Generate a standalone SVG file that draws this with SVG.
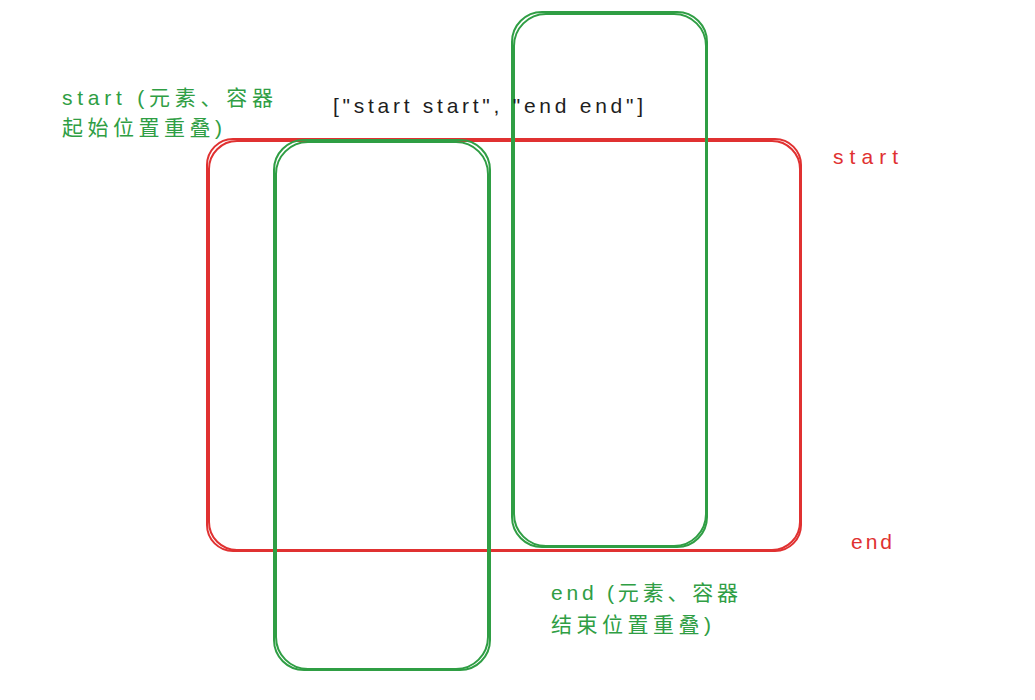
<svg xmlns="http://www.w3.org/2000/svg" width="1035" height="700" viewBox="0 0 1035 700">
<style>
.r{fill:none;stroke:#e03131;stroke-width:2}
.g{fill:none;stroke:#2f9e44;stroke-width:2}
.t{font-family:"Liberation Sans","Noto Sans CJK SC",sans-serif;font-size:21px}
.tg{fill:#2f9e44}.tr{fill:#e03131}.tb{fill:#1e1e1e}
</style>
<rect width="1035" height="700" fill="#fff"/>
<g id="container">
<rect class="r" x="207" y="139" width="594" height="412" rx="26"/>
<rect class="r" x="209" y="141" width="591" height="409" rx="28"/>
</g>
<g id="item1">
<rect class="g" x="274" y="140" width="216" height="530" rx="30"/>
<rect class="g" x="276" y="142" width="212" height="527" rx="32"/>
</g>
<g id="item2">
<rect class="g" x="512" y="12" width="195" height="535" rx="30"/>
<rect class="g" x="514" y="14" width="192" height="532" rx="32"/>
</g>
<g id="connectors"/>
<g id="labels">
<text class="t tg" x="62" y="105" textLength="211" lengthAdjust="spacing">start (元素、容器</text>
<text class="t tg" x="62" y="135" textLength="160" lengthAdjust="spacing">起始位置重叠)</text>
<text class="t tb" x="333" y="113" font-size="22" textLength="310" lengthAdjust="spacing">["start start", "end end"]</text>
<text class="t tr" x="833" y="164" textLength="65" lengthAdjust="spacing">start</text>
<text class="t tr" x="851" y="549" textLength="41" lengthAdjust="spacing">end</text>
<text class="t tg" x="551" y="600" textLength="187" lengthAdjust="spacing">end (元素、容器</text>
<text class="t tg" x="551" y="632" textLength="160" lengthAdjust="spacing">结束位置重叠)</text>
</g>
</svg>
